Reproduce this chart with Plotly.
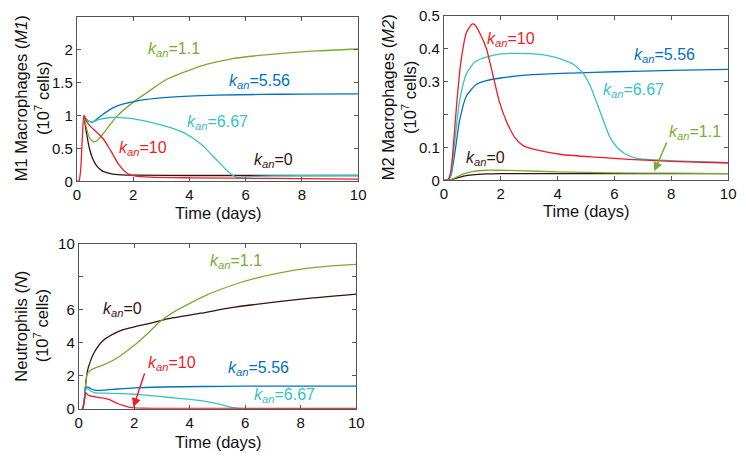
import plotly.graph_objects as go

# ---------------- data ----------------
# M1 macrophages
t_m1_k0 = [0.25, 0.35, 0.45, 0.55, 0.7, 0.9, 1.2, 1.6, 2.2, 4, 10]
m1_k0 = [1.0, 0.72, 0.5, 0.36, 0.24, 0.16, 0.12, 0.1, 0.095, 0.09, 0.09]
t_m1_k11 = [0.25, 0.35, 0.45, 0.6, 0.75, 1.0, 1.4, 2.0, 2.6, 3.2, 4.4, 5.5, 6.2, 7.2, 8.5, 10]
m1_k11 = [1.0, 0.8, 0.66, 0.6, 0.63, 0.76, 0.98, 1.2, 1.38, 1.55, 1.75, 1.86, 1.9, 1.94, 1.98, 2.01]
t_m1_k556 = [0.25, 0.4, 0.55, 0.75, 1.0, 1.3, 1.7, 2.1, 2.8, 3.8, 5, 6.5, 8, 10]
m1_k556 = [1.0, 0.92, 0.9, 0.96, 1.04, 1.12, 1.18, 1.22, 1.26, 1.29, 1.31, 1.32, 1.325, 1.33]
t_m1_k667 = [0.25, 0.4, 0.55, 0.8, 1.2, 1.8, 2.6, 3.3, 3.8, 4.4, 4.8, 5.1, 5.4, 5.7, 6.0, 7, 10]
m1_k667 = [1.0, 0.92, 0.9, 0.94, 0.97, 0.96, 0.9, 0.82, 0.74, 0.57, 0.4, 0.27, 0.14, 0.06, 0.07, 0.085, 0.09]
t_m1_k10 = [0, 0.08, 0.14, 0.2, 0.25, 0.3, 0.45, 0.7, 0.95, 1.2, 1.5, 1.8, 2.1, 2.6, 4, 7, 10]
m1_k10 = [0, 0.01, 0.2, 0.7, 1.0, 0.95, 0.85, 0.75, 0.64, 0.47, 0.25, 0.12, 0.08, 0.065, 0.055, 0.045, 0.035]

# M2 macrophages
t_m2_k10 = [0, 0.15, 0.25, 0.35, 0.45, 0.6, 0.8, 1.0, 1.1, 1.25, 1.5, 1.7, 1.95, 2.2, 2.5, 2.8, 3.3, 4.2, 5.5, 6.5, 8, 10]
m2_k10 = [0, 0.003, 0.03, 0.12, 0.23, 0.36, 0.45, 0.475, 0.472, 0.45, 0.4, 0.33, 0.24, 0.18, 0.13, 0.105, 0.092, 0.078, 0.07, 0.064, 0.058, 0.053]
t_m2_k667 = [0, 0.15, 0.25, 0.4, 0.55, 0.8, 1.1, 1.4, 1.9, 2.5, 3.2, 3.7, 4.2, 4.6, 4.9, 5.15, 5.5, 5.85, 6.1, 6.35, 6.8, 8, 10]
m2_k667 = [0, 0.002, 0.02, 0.13, 0.24, 0.325, 0.36, 0.372, 0.383, 0.386, 0.384, 0.378, 0.366, 0.35, 0.325, 0.287, 0.208, 0.13, 0.1, 0.082, 0.067, 0.06, 0.054]
t_m2_k556 = [0, 0.15, 0.25, 0.4, 0.55, 0.8, 1.15, 1.5, 2.0, 3.1, 4.5, 6, 8, 10]
m2_k556 = [0, 0.001, 0.015, 0.09, 0.18, 0.257, 0.292, 0.303, 0.311, 0.321, 0.326, 0.33, 0.334, 0.337]
t_m2_k11 = [0, 0.2, 0.4, 0.7, 1.0, 1.5, 1.9, 2.6, 4, 6, 8, 10]
m2_k11 = [0, 0.001, 0.008, 0.02, 0.027, 0.031, 0.031, 0.03, 0.026, 0.023, 0.022, 0.021]
t_m2_k0 = [0, 0.2, 0.4, 0.7, 1.0, 1.5, 2.0, 3, 10]
m2_k0 = [0, 0.001, 0.006, 0.013, 0.017, 0.02, 0.021, 0.021, 0.021]

# Neutrophils
t_n_k0 = [0.15, 0.2, 0.25, 0.3, 0.4, 0.55, 0.85, 1.2, 1.6, 2.0, 2.6, 3.2, 4.4, 5.5, 6.2, 8, 10]
n_k0 = [0, 0.5, 1.5, 2.2, 2.8, 3.4, 4.1, 4.5, 4.8, 4.97, 5.2, 5.46, 5.8, 6.14, 6.3, 6.65, 6.96]
t_n_k11 = [0.15, 0.2, 0.25, 0.3, 0.4, 0.55, 0.85, 1.4, 2.0, 2.5, 2.9, 3.4, 4.0, 4.6, 5.2, 5.8, 6.5, 7.3, 8.2, 9.1, 10]
n_k11 = [0, 0.5, 1.5, 2.1, 2.3, 2.45, 2.63, 3.1, 3.85, 4.6, 5.25, 5.85, 6.4, 6.9, 7.3, 7.65, 7.98, 8.27, 8.52, 8.68, 8.77]
t_n_k556 = [0.15, 0.2, 0.25, 0.3, 0.45, 0.6, 0.9, 1.4, 2.0, 3, 4.4, 6, 8, 10]
n_k556 = [0, 0.6, 1.25, 1.33, 1.2, 1.12, 1.13, 1.2, 1.27, 1.32, 1.35, 1.37, 1.37, 1.37]
t_n_k667 = [0.15, 0.2, 0.25, 0.3, 0.45, 0.6, 0.9, 1.5, 2.0, 2.6, 3.2, 3.8, 4.4, 4.8, 5.1, 5.4, 5.7, 6, 10]
n_k667 = [0, 0.6, 1.15, 1.22, 1.05, 0.97, 0.95, 0.92, 0.88, 0.8, 0.7, 0.6, 0.49, 0.37, 0.26, 0.13, 0.04, 0.01, 0.01]
t_n_k10 = [0.1, 0.15, 0.2, 0.25, 0.3, 0.4, 0.6, 0.85, 1.05, 1.2, 1.4, 1.6, 1.8, 2.0, 2.3, 3, 10]
n_k10 = [0, 0.05, 0.5, 0.98, 0.88, 0.78, 0.72, 0.66, 0.58, 0.48, 0.32, 0.2, 0.1, 0.05, 0.03, 0.02, 0.02]

x_ticks = [0, 2, 4, 6, 8, 10]
m1_ticks = [0, 0.5, 1, 1.5, 2]
m1_ticklabels = ["0", "0.5", "1", "1.5", "2"]
m2_ticks = [0, 0.1, 0.2, 0.3, 0.4, 0.5]
m2_ticklabels = ["0", "0.1", "", "0.3", "0.4", "0.5"]
n_ticks = [0, 2, 4, 6, 8, 10]
n_ticklabels = ["0", "2", "4", "6", "", "10"]

# ---------------- style ----------------
C_K0 = "#3a1010"
C_K11 = "#77AC30"
C_K556 = "#0072BD"
C_K667 = "#35C3C8"
C_K10 = "#EE1C25"
FONT = "Arial, Liberation Sans, Helvetica, sans-serif"

fig = go.Figure()

def add(t, y, color, xa, ya):
    fig.add_trace(go.Scatter(x=t, y=y, mode="lines", xaxis=xa, yaxis=ya,
                             line=dict(color=color, width=1.3, shape="spline", smoothing=0.6),
                             showlegend=False, hoverinfo="skip"))

# M1 panel
add(t_m1_k0, m1_k0, C_K0, "x", "y")
add(t_m1_k11, m1_k11, C_K11, "x", "y")
add(t_m1_k556, m1_k556, C_K556, "x", "y")
add(t_m1_k667, m1_k667, C_K667, "x", "y")
add(t_m1_k10, m1_k10, C_K10, "x", "y")
# M2 panel
add(t_m2_k0, m2_k0, C_K0, "x2", "y2")
add(t_m2_k11, m2_k11, C_K11, "x2", "y2")
add(t_m2_k556, m2_k556, C_K556, "x2", "y2")
add(t_m2_k667, m2_k667, C_K667, "x2", "y2")
add(t_m2_k10, m2_k10, C_K10, "x2", "y2")
# Neutrophil panel
add(t_n_k0, n_k0, C_K0, "x3", "y3")
add(t_n_k11, n_k11, C_K11, "x3", "y3")
add(t_n_k556, n_k556, C_K556, "x3", "y3")
add(t_n_k667, n_k667, C_K667, "x3", "y3")
add(t_n_k10, n_k10, C_K10, "x3", "y3")

W, H = 746, 463
def dom_x(a, b):
    return [a / W, b / W]
def dom_y(top, bottom):
    return [1 - bottom / H, 1 - top / H]

axcommon = dict(showgrid=False, zeroline=False, showline=True, linecolor="#555555", linewidth=1,
                mirror="ticks", ticks="inside", ticklen=4, tickcolor="#555555",
                tickfont=dict(family=FONT, size=15, color="#111111"))

fig.update_layout(
    width=W, height=H, margin=dict(l=0, r=0, t=0, b=0),
    paper_bgcolor="white", plot_bgcolor="white",
    font=dict(family=FONT, size=15, color="#111111"),
    xaxis=dict(domain=dom_x(74, 360), range=[0, 10], tickvals=x_ticks, anchor="y", **axcommon),
    yaxis=dict(domain=dom_y(8, 179), range=[0, 2.5], tickvals=m1_ticks, ticktext=m1_ticklabels, anchor="x", **axcommon),
    xaxis2=dict(domain=dom_x(447, 736), range=[0, 10], tickvals=x_ticks, anchor="y2", **axcommon),
    yaxis2=dict(domain=dom_y(7, 178), range=[0, 0.5], tickvals=m2_ticks, ticktext=m2_ticklabels, anchor="x2", **axcommon),
    xaxis3=dict(domain=dom_x(76, 358), range=[0, 10], tickvals=x_ticks, anchor="y3", **axcommon),
    yaxis3=dict(domain=dom_y(244, 415), range=[0, 10], tickvals=n_ticks, ticktext=n_ticklabels, anchor="x3", **axcommon),
)

def k(v):
    return "<i>k</i><sub><i>an</i></sub>=" + v

def lab(xa, ya, x, y, v, color):
    fig.add_annotation(xref=xa, yref=ya, x=x, y=y, text=k(v), showarrow=False,
                       font=dict(family=FONT, size=16, color=color), xanchor="center", yanchor="middle")

# M1 labels
lab("x", "y", 3.46, 2.0, "1.1", C_K11)
lab("x", "y", 6.5, 1.52, "5.56", C_K556)
lab("x", "y", 5.0, 0.9, "6.67", C_K667)
lab("x", "y", 2.37, 0.5, "10", C_K10)
lab("x", "y", 7.0, 0.32, "0", C_K0)
# M2 labels
lab("x2", "y2", 2.38, 0.427, "10", C_K10)
lab("x2", "y2", 7.75, 0.38, "5.56", C_K556)
lab("x2", "y2", 6.66, 0.272, "6.67", C_K667)
lab("x2", "y2", 8.83, 0.146, "1.1", C_K11)
lab("x2", "y2", 1.48, 0.067, "0", C_K0)
# Neutrophil labels
lab("x3", "y3", 5.67, 8.95, "1.1", C_K11)
lab("x3", "y3", 1.56, 6.04, "0", C_K0)
lab("x3", "y3", 3.36, 2.73, "10", C_K10)
lab("x3", "y3", 6.49, 2.47, "5.56", C_K556)
lab("x3", "y3", 7.41, 0.78, "6.67", C_K667)

# arrows
fig.add_annotation(xref="x2", yref="y2", axref="x2", ayref="y2", x=7.4, y=0.028, ax=7.86, ay=0.12,
                   text="", showarrow=True, arrowhead=2, arrowsize=1.2, arrowwidth=1.5, arrowcolor=C_K11)
fig.add_annotation(xref="x3", yref="y3", axref="x3", ayref="y3", x=1.97, y=0.1, ax=2.39, ay=2.24,
                   text="", showarrow=True, arrowhead=2, arrowsize=1.2, arrowwidth=1.5, arrowcolor=C_K10)

# axis titles
def title(x, y, text, angle=0):
    fig.add_annotation(xref="paper", yref="paper", x=x / W, y=1 - y / H, text=text, showarrow=False,
                       textangle=angle, xanchor="center", yanchor="middle",
                       font=dict(family=FONT, size=16.5, color="#111111"))

title(217, 212, "Time (days)")
title(592, 210, "Time (days)")
title(217, 450, "Time (days)")
title(17, 93, "M1 Macrophages (<i>M1</i>)", -90)
title(38, 93, "(10<sup>7</sup> cells)", -90)
title(390, 92, "M2 Macrophages (<i>M2</i>)", -90)
title(411, 92, "(10<sup>7</sup> cells)", -90)
title(17, 329, "Neutrophils (<i>N</i>)", -90)
title(38, 329, "(10<sup>7</sup> cells)", -90)

fig.write_html("out.html", config={"displayModeBar": False},
               post_script="document.body.style.margin='0px';")
